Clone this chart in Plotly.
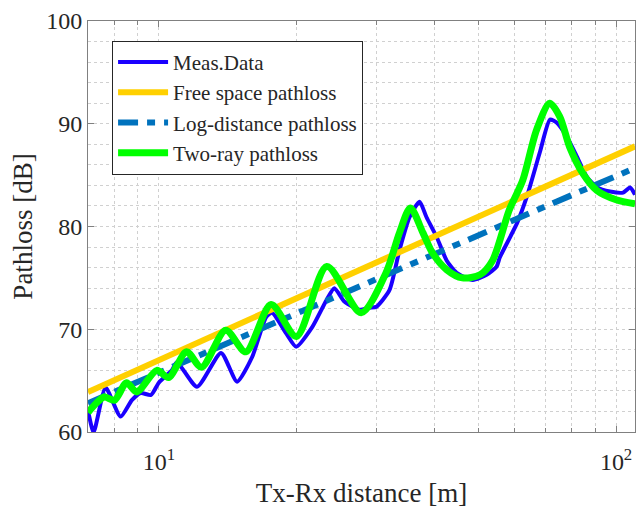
import plotly.graph_objects as go

# ---- data ----
meas_d = [7.0, 7.2, 7.65, 8.25, 8.73, 9.13, 9.61, 10.0, 10.68, 10.95, 12.12, 13.68, 14.83,
          16.0, 17.17, 17.69, 18.99, 19.97, 21.65, 23.24, 24.2, 25.45, 27.46, 28.88, 29.92,
          31.94, 33.6, 35.34, 37.17, 38.5, 40.5, 42.6, 44.8, 48.6, 52.1, 54.8, 55.7, 60.7,
          63.8, 68.1, 71.7, 74.2, 78.1, 82.1, 86.4, 90.9, 97.0, 103.6, 107.3, 110.0]
meas_pl = [62.1, 60.0, 64.3, 61.5, 63.1, 63.8, 63.6, 64.8, 66.0, 66.8, 64.4, 67.7, 64.9,
           67.3, 71.2, 71.6, 69.6, 68.3, 70.2, 72.8, 74.0, 72.7, 71.9, 72.1, 72.2,
           73.8, 77.7, 80.9, 82.4, 80.9, 79.0, 76.7, 75.5, 74.8, 75.3, 76.1, 77.0, 80.3,
           82.9, 87.2, 90.4, 90.1, 88.7, 86.8, 84.8, 83.8, 83.4, 83.3, 83.8, 83.1]

fs_d = [7.0, 110.0]
fs_pl = [63.9, 87.8]

ld_d = [7.0, 110.0]
ld_pl = [62.8, 85.7]

tr_d = [7.0, 7.3, 7.6, 8.0, 8.5, 8.95, 9.9, 10.5, 11.5, 12.4, 14.0, 15.5, 17.6, 20.0,
        23.3, 27.7, 31.4, 33.6, 35.5, 37.8, 39.7, 42.6, 46.1, 50.4, 53.7, 58.4, 62.5,
        67.0, 71.6, 75.3, 79.2, 84.5, 90.8, 100.0, 110.0]
tr_pl = [61.9, 62.8, 63.4, 63.1, 64.8, 63.9, 66.0, 65.3, 67.8, 66.3, 69.9, 67.8, 72.4, 69.3,
         76.1, 71.6, 75.5, 79.4, 81.8, 79.4, 77.4, 75.8, 75.0, 75.3, 76.7, 81.6, 84.5,
         89.4, 92.0, 90.7, 87.7, 85.2, 83.5, 82.6, 82.2]

x_major = [10, 100]
x_major_text = ["10<sup>1</sup>", "10<sup>2</sup>"]
x_minor = [8, 9, 20, 30, 40, 50, 60, 70, 80, 90]
y_major = [60, 70, 80, 90, 100]

FONT = "Liberation Serif"
GRID = "#d0d0d0"
AX = "#808080"

fig = go.Figure()
fig.add_trace(go.Scatter(x=meas_d, y=meas_pl, mode="lines", name="Meas.Data",
                         line=dict(color="#1a00ff", width=4, shape="spline", smoothing=0.6)))
fig.add_trace(go.Scatter(x=fs_d, y=fs_pl, mode="lines", name="Free space pathloss",
                         line=dict(color="#ffd000", width=6)))
fig.add_trace(go.Scatter(x=ld_d, y=ld_pl, mode="lines", name="Log-distance pathloss",
                         line=dict(color="#0072bd", width=6, dash="20px,9px,8px,9px")))
fig.add_trace(go.Scatter(x=tr_d, y=tr_pl, mode="lines", name="Two-ray pathloss",
                         line=dict(color="#00ff00", width=7, shape="spline", smoothing=0.8)))

fig.update_layout(
    width=636, height=508,
    margin=dict(l=88, r=1, t=21, b=76, autoexpand=False),
    paper_bgcolor="white", plot_bgcolor="white",
    font=dict(family=FONT, color="#262626", size=24),
    showlegend=True,
    legend=dict(x=0.044, y=0.952, xanchor="left", yanchor="top",
                bgcolor="white", bordercolor="#262626", borderwidth=1,
                font=dict(family=FONT, size=21, color="#262626"),
                itemwidth=50, tracegroupgap=0),
)
fig.update_xaxes(
    type="log", range=[0.8451, 2.0414],
    tickmode="array", tickvals=x_major, ticktext=x_major_text,
    ticks="inside", ticklen=6, tickcolor=AX,
    showline=True, linecolor=AX, linewidth=1, mirror="ticks",
    showgrid=True, gridcolor=GRID, griddash="dot", gridwidth=1,
    minor=dict(tickmode="array", tickvals=x_minor, ticks="inside", ticklen=4,
               tickcolor=AX, showgrid=True, gridcolor=GRID, griddash="dot"),
    title=dict(text="Tx-Rx distance [m]", font=dict(family=FONT, size=27), standoff=32),
    tickfont=dict(family=FONT, size=24),
    ticklabelstandoff=8,
    automargin=False,
    zeroline=False,
)
fig.update_yaxes(
    range=[60, 100],
    tickmode="array", tickvals=y_major,
    ticks="inside", ticklen=6, tickcolor=AX,
    showline=True, linecolor=AX, linewidth=1, mirror="ticks",
    showgrid=True, gridcolor=GRID, griddash="dot", gridwidth=1,
    minor=dict(dtick=2, ticks="", showgrid=True, gridcolor=GRID, griddash="dot"),
    title=dict(text="Pathloss [dB]", font=dict(family=FONT, size=27), standoff=5),
    tickfont=dict(family=FONT, size=24),
    automargin=False,
    zeroline=False,
)

fig.write_html("out.html")
